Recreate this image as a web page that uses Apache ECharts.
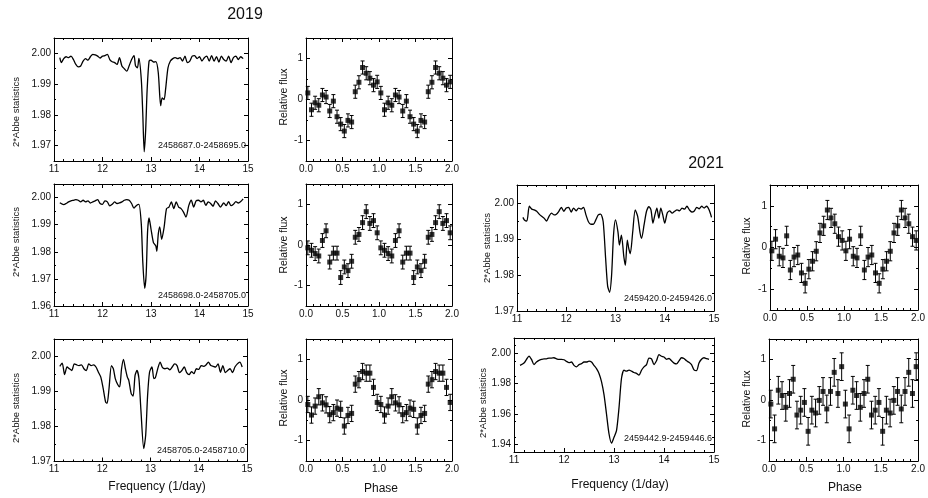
<!DOCTYPE html>
<html><head><meta charset="utf-8">
<script src="https://cdn.jsdelivr.net/npm/echarts@6/dist/echarts.min.js"></script>
<style>html,body{margin:0;padding:0;background:#fff}#c{width:928px;height:498px}</style>
</head><body><div id="c"></div><script>
// ---------------- DATA ----------------
const freqTicks = [11, 12, 13, 14, 15];
const phaseTicks = [0, 0.5, 1, 1.5, 2];
const fluxTicks = [-1, 0, 1];
const abbeTicksA = [1.97, 1.98, 1.99, 2.00];
const abbeTicksB = [1.96, 1.97, 1.98, 1.99, 2.00];
const abbeTicksC = [1.97, 1.98, 1.99, 2.00];
const abbeTicksD = [1.97, 1.98, 1.99, 2.00];
const abbeTicksE = [1.94, 1.96, 1.98, 2.00];

const labelA = '2458687.0-2458695.0';
const labelB = '2458698.0-2458705.0';
const labelC = '2458705.0-2458710.0';
const labelD = '2459420.0-2459426.0';
const labelE = '2459442.9-2459446.6';

const freqA = [11.12,11.15,11.2,11.25,11.3,11.35,11.4,11.45,11.5,11.55,11.6,11.65,11.7,11.75,11.8,11.85,11.9,11.95,12.0,12.05,12.1,12.15,12.2,12.25,12.3,12.35,12.4,12.45,12.5,12.55,12.6,12.65,12.68,12.72,12.75,12.8,12.83,12.86,12.89,12.92,12.96,13.0,13.05,13.1,13.15,13.2,13.23,13.27,13.3,13.35,13.4,13.45,13.5,13.55,13.6,13.65,13.7,13.75,13.8,13.85,13.9,13.95,14.0,14.05,14.1,14.15,14.2,14.25,14.3,14.35,14.4,14.45,14.5,14.55,14.6,14.65,14.7,14.75,14.8,14.85,14.9];
const abbeA = [1.9986,1.9970,1.9983,1.9989,1.9986,1.9991,1.9980,1.9964,1.9956,1.9959,1.9975,1.9983,1.9978,1.9989,1.9997,1.9995,1.9991,1.9985,1.9991,1.9993,1.9997,1.9980,1.9973,1.9970,1.9964,1.9986,1.9959,1.9950,1.9942,1.9960,1.9980,1.9993,1.9960,1.9953,1.9984,1.9915,1.9806,1.9680,1.9750,1.9880,1.9975,1.9978,1.9972,1.9973,1.9937,1.9830,1.9855,1.9850,1.9882,1.9953,1.9975,1.9983,1.9986,1.9983,1.9986,1.9975,1.9991,1.9970,1.9975,1.9991,1.9993,1.9983,1.9989,1.9975,1.9986,1.9991,1.9975,1.9993,1.9975,1.9989,1.9972,1.9991,1.9980,1.9975,1.9991,1.9970,1.9986,1.9991,1.9980,1.9989,1.9983];

const freqB = [11.12,11.2,11.25,11.3,11.35,11.4,11.45,11.5,11.55,11.6,11.65,11.7,11.75,11.8,11.85,11.9,11.95,12.0,12.05,12.1,12.15,12.2,12.25,12.3,12.35,12.4,12.45,12.5,12.55,12.6,12.65,12.7,12.75,12.8,12.83,12.87,12.9,12.93,12.96,13.0,13.05,13.1,13.12,13.15,13.18,13.22,13.27,13.32,13.37,13.42,13.47,13.52,13.57,13.62,13.67,13.72,13.78,13.83,13.88,13.93,13.98,14.03,14.08,14.13,14.18,14.23,14.28,14.33,14.38,14.43,14.5,14.55,14.6,14.65,14.7,14.75,14.8,14.85,14.9];
const abbeB = [1.9981,1.9974,1.9978,1.9984,1.9988,1.9990,1.9992,1.9990,1.9984,1.9990,1.9984,1.9988,1.9980,1.9984,1.9988,1.9992,1.9978,1.9975,1.9988,1.9984,1.9969,1.9975,1.9984,1.9978,1.9980,1.9984,1.9990,1.9992,1.9990,1.9978,1.9961,1.9971,1.9975,1.9902,1.9765,1.9665,1.9715,1.9877,1.9925,1.9884,1.9834,1.9821,1.9802,1.9865,1.9892,1.9846,1.9890,1.9959,1.9965,1.9984,1.9959,1.9984,1.9965,1.9959,1.9946,1.9928,1.9971,1.9990,1.9965,1.9988,1.9990,1.9984,1.9990,1.9971,1.9984,1.9978,1.9968,1.9988,1.9978,1.9965,1.9980,1.9970,1.9985,1.9970,1.9975,1.9985,1.9980,1.9985,1.9995];

const freqC = [11.12,11.17,11.22,11.27,11.32,11.37,11.42,11.47,11.52,11.57,11.62,11.67,11.72,11.77,11.82,11.87,11.92,11.97,12.02,12.07,12.1,12.14,12.19,12.23,12.27,12.32,12.36,12.4,12.44,12.48,12.52,12.55,12.6,12.64,12.68,12.72,12.76,12.8,12.86,12.9,12.94,12.98,13.03,13.07,13.1,13.15,13.2,13.25,13.3,13.35,13.4,13.45,13.5,13.55,13.6,13.65,13.7,13.75,13.8,13.85,13.9,13.95,14.0,14.05,14.1,14.15,14.2,14.25,14.3,14.35,14.4,14.45,14.5,14.55,14.6,14.65,14.7,14.75,14.8,14.85,14.9];
const abbeC = [1.9972,1.9981,1.9948,1.9970,1.9965,1.9960,1.9979,1.9976,1.9974,1.9976,1.9965,1.9960,1.9979,1.9974,1.9976,1.9970,1.9955,1.9941,1.9908,1.9870,1.9866,1.9908,1.9974,1.9965,1.9937,1.9920,1.9913,1.9965,1.9992,1.9965,1.9941,1.9932,1.9894,1.9887,1.9946,1.9960,1.9937,1.9850,1.9737,1.9775,1.9889,1.9955,1.9970,1.9937,1.9939,1.9965,1.9984,1.9968,1.9965,1.9967,1.9962,1.9970,1.9979,1.9974,1.9954,1.9960,1.9970,1.9954,1.9948,1.9957,1.9951,1.9965,1.9963,1.9974,1.9972,1.9976,1.9984,1.9974,1.9972,1.9970,1.9979,1.9955,1.9974,1.9954,1.9960,1.9965,1.9954,1.9970,1.9979,1.9984,1.9970];

const freqD = [11.12,11.15,11.2,11.25,11.3,11.35,11.4,11.45,11.5,11.55,11.6,11.65,11.7,11.75,11.8,11.85,11.9,11.95,12.0,12.05,12.1,12.15,12.2,12.25,12.3,12.35,12.4,12.45,12.5,12.55,12.6,12.65,12.7,12.75,12.8,12.84,12.88,12.92,12.96,13.0,13.05,13.08,13.12,13.17,13.2,13.24,13.27,13.3,13.35,13.4,13.45,13.5,13.53,13.58,13.63,13.68,13.72,13.76,13.8,13.84,13.88,13.92,13.96,14.0,14.05,14.1,14.15,14.2,14.25,14.3,14.35,14.4,14.45,14.5,14.55,14.6,14.65,14.7,14.75,14.8,14.85,14.9,14.95];
const abbeD = [1.9960,1.9953,1.9950,1.9991,1.9983,1.9981,1.9977,1.9969,1.9963,1.9958,1.9950,1.9963,1.9972,1.9967,1.9969,1.9977,1.9988,1.9977,1.9986,1.9988,1.9975,1.9986,1.9978,1.9986,1.9983,1.9988,1.9967,1.9948,1.9941,1.9941,1.9953,1.9967,1.9969,1.9948,1.9845,1.9770,1.9752,1.9798,1.9911,1.9953,1.9920,1.9883,1.9911,1.9850,1.9827,1.9897,1.9873,1.9859,1.9920,1.9981,1.9963,1.9916,1.9902,1.9939,1.9977,1.9990,1.9981,1.9944,1.9967,1.9986,1.9958,1.9986,1.9967,1.9944,1.9972,1.9978,1.9972,1.9977,1.9981,1.9978,1.9986,1.9983,1.9991,1.9981,1.9975,1.9978,1.9988,1.9984,1.9991,1.9986,1.9991,1.9981,1.9960];

const freqE = [11.12,11.2,11.25,11.3,11.35,11.4,11.45,11.5,11.55,11.6,11.65,11.7,11.75,11.8,11.85,11.9,11.95,12.0,12.05,12.1,12.15,12.2,12.25,12.3,12.35,12.4,12.45,12.5,12.55,12.6,12.65,12.7,12.75,12.8,12.85,12.9,12.95,13.0,13.05,13.1,13.15,13.2,13.25,13.3,13.35,13.4,13.45,13.5,13.55,13.6,13.65,13.7,13.75,13.8,13.85,13.9,13.95,14.0,14.05,14.1,14.15,14.2,14.25,14.3,14.35,14.4,14.45,14.5,14.55,14.6,14.65,14.7,14.75,14.8,14.85,14.9];
const abbeE = [1.9920,1.9935,1.9959,1.9981,1.9959,1.9925,1.9942,1.9953,1.9959,1.9963,1.9963,1.9968,1.9968,1.9970,1.9963,1.9959,1.9959,1.9957,1.9946,1.9938,1.9942,1.9920,1.9910,1.9925,1.9931,1.9942,1.9942,1.9948,1.9942,1.9920,1.9899,1.9867,1.9813,1.9727,1.9600,1.9470,1.9408,1.9447,1.9490,1.9640,1.9835,1.9888,1.9882,1.9888,1.9882,1.9873,1.9867,1.9856,1.9888,1.9910,1.9925,1.9968,1.9963,1.9925,1.9950,1.9990,1.9980,1.9975,1.9960,1.9965,1.9950,1.9935,1.9930,1.9950,1.9970,1.9965,1.9950,1.9940,1.9925,1.9890,1.9885,1.9935,1.9960,1.9970,1.9965,1.9960];

// phase bin centres of one cycle (plotted for two cycles)
const phaseBins = [0.025,0.075,0.125,0.175,0.225,0.275,0.325,0.375,0.425,0.475,0.525,0.575,0.625,0.675,0.725,0.775,0.825,0.875,0.925,0.975];
const fluxA = [0.16,-0.25,-0.08,-0.14,0.11,0.06,-0.28,-0.04,-0.42,-0.60,-0.77,-0.51,-0.55,0.19,0.42,0.78,0.64,0.52,0.35,0.43];
const fluxB = [-0.07,-0.13,-0.21,-0.27,0.11,0.35,-0.42,-0.20,-0.20,-0.80,-0.54,-0.63,-0.40,0.19,0.26,0.55,0.82,0.53,0.60,0.30];
const fluxC = [-0.11,-0.37,-0.15,0.08,-0.07,-0.12,-0.36,-0.31,-0.20,-0.23,-0.64,-0.38,-0.33,0.39,0.50,0.70,0.66,0.66,0.31,-0.06];
const fluxD = [-0.08,0.20,-0.21,-0.25,0.28,-0.54,-0.23,-0.18,-0.61,-0.86,-0.52,-0.33,-0.09,0.35,0.52,0.90,0.71,0.57,0.26,0.17];
const fluxE = [-0.10,-0.71,0.24,0.11,-0.18,0.16,0.51,-0.37,-0.25,-0.06,-0.77,-0.25,-0.32,-0.01,0.21,-0.22,0.21,0.68,0.16,0.82];
const errA = 0.16, errB = 0.17, errC = 0.20, errD = 0.23, errE = 0.34;

// ---------------- BUILD ----------------
const FONT = '"Liberation Sans", Arial, sans-serif';
const TXT = '#111';
const grids = [], xAxes = [], yAxes = [], series = [], graphics = [];

function steps(a, b, s) {
  const r = []; const n = Math.round((b - a) / s);
  for (let i = 0; i <= n; i++) r.push(+(a + i * s).toFixed(6));
  return r;
}

function axisSet(list, gi, dim, min, max, majors, minors, fmt, showLabels) {
  const posMain = dim === 'x' ? 'bottom' : 'left';
  const posMirror = dim === 'x' ? 'top' : 'right';
  const base = () => ({ type: 'value', gridIndex: gi, min, max, scale: true,
    splitLine: { show: false }, axisPointer: { show: false } });
  const idx = list.length;
  list.push(Object.assign(base(), { position: posMain,
    axisLine: { show: true, onZero: false, lineStyle: { color: '#000', width: 1 } },
    axisTick: { show: true, inside: true, length: 4, customValues: majors, lineStyle: { color: '#000', width: 1 } },
    axisLabel: { show: showLabels, customValues: majors, formatter: fmt, fontSize: 10, color: TXT,
      fontFamily: FONT, margin: 3 } }));
  list.push(Object.assign(base(), { position: posMirror,
    axisLine: { show: true, onZero: false, lineStyle: { color: '#000', width: 1 } },
    axisTick: { show: true, inside: true, length: 4, customValues: majors, lineStyle: { color: '#000', width: 1 } },
    axisLabel: { show: false } }));
  [posMain, posMirror].forEach(pos => list.push(Object.assign(base(), { position: pos,
    axisLine: { show: false, onZero: false },
    axisTick: { show: true, inside: true, length: 2, customValues: minors, lineStyle: { color: '#000', width: 1 } },
    axisLabel: { show: false } })));
  return idx;
}

function addGrid(rect, xr, yr) {
  const gi = grids.length;
  grids.push({ left: rect[0], top: rect[1], width: rect[2], height: rect[3] });
  const xi = axisSet(xAxes, gi, 'x', xr.min, xr.max, xr.majors, xr.minors, xr.fmt, true);
  const yi = axisSet(yAxes, gi, 'y', yr.min, yr.max, yr.majors, yr.minors, yr.fmt, true);
  return { xi, yi };
}

const fmtInt = v => String(Math.round(v));
const fmt1 = v => v.toFixed(1);
const fmt2 = v => v.toFixed(2);
const freqAxis = { min: 11, max: 15, majors: freqTicks, minors: steps(11, 15, 0.2), fmt: fmtInt };
const phaseAxis = { min: 0, max: 2, majors: phaseTicks, minors: steps(0, 2, 0.1), fmt: fmt1 };
const fluxAxis = { min: -1.5, max: 1.5, majors: fluxTicks, minors: steps(-1.5, 1.5, 0.5), fmt: fmtInt };

function periodogram(rect, freq, abbe, ymin, ymax, majors, minorStep, label, labelY) {
  const a = addGrid(rect, freqAxis, { min: ymin, max: ymax, majors, minors: steps(ymin, ymax, minorStep), fmt: fmt2 });
  series.push({ type: 'line', xAxisIndex: a.xi, yAxisIndex: a.yi, data: freq.map((f, i) => [f, abbe[i]]),
    showSymbol: false, symbol: 'none', smooth: 0.25, lineStyle: { color: '#000', width: 1.3 }, clip: true, silent: true });
  graphics.push({ type: 'text', x: rect[0] + rect[2] - 2, y: labelY,
    style: { text: label, fill: TXT, font: '9px ' + FONT, textAlign: 'right', textVerticalAlign: 'middle' } });
}

function phasePlot(rect, flux, err) {
  const a = addGrid(rect, phaseAxis, fluxAxis);
  const pts = [];
  [0, 1].forEach(c => phaseBins.forEach((p, i) => pts.push([p + c, flux[i]])));
  series.push({ type: 'custom', xAxisIndex: a.xi, yAxisIndex: a.yi, silent: true,
    data: pts.map(d => [d[0], d[1] - err, d[1] + err]),
    encode: { x: 0, y: [1, 2] },
    renderItem: (params, api) => {
      const x = api.value(0);
      const p1 = api.coord([x, api.value(1)]), p2 = api.coord([x, api.value(2)]);
      const cw = 2, st = { stroke: '#000', lineWidth: 1 };
      return { type: 'group', children: [
        { type: 'line', shape: { x1: p1[0], y1: p1[1], x2: p2[0], y2: p2[1] }, style: st },
        { type: 'line', shape: { x1: p1[0] - cw, y1: p1[1], x2: p1[0] + cw, y2: p1[1] }, style: st },
        { type: 'line', shape: { x1: p2[0] - cw, y1: p2[1], x2: p2[0] + cw, y2: p2[1] }, style: st }
      ] };
    } });
  series.push({ type: 'scatter', xAxisIndex: a.xi, yAxisIndex: a.yi, data: pts, symbol: 'rect',
    symbolSize: 5, itemStyle: { color: '#000' }, silent: true, z: 3 });
}

function text(x, y, s, size, rot) {
  graphics.push({ type: 'text', x, y, rotation: rot ? Math.PI / 2 : 0,
    style: { text: s, fill: TXT, font: size + 'px ' + FONT, textAlign: 'center', textVerticalAlign: 'middle' } });
}

// 2019 column
periodogram([54, 38, 194, 123], freqA, abbeA, 1.965, 2.005, abbeTicksA, 0.005, labelA, 146);
phasePlot([306, 38, 146, 123], fluxA, errA);
periodogram([54, 184, 194, 122], freqB, abbeB, 1.96, 2.005, abbeTicksB, 0.005, labelB, 296);
phasePlot([306, 184, 146, 122], fluxB, errB);
periodogram([54, 339, 193, 122.5], freqC, abbeC, 1.97, 2.005, abbeTicksC, 0.005, labelC, 451);
phasePlot([306, 339, 146, 122], fluxC, errC);
// 2021 column
periodogram([517, 185, 197, 126], freqD, abbeD, 1.97, 2.005, abbeTicksD, 0.005, labelD, 299);
phasePlot([770, 185, 150, 125], fluxD, errD);
periodogram([514, 338, 200, 114], freqE, abbeE, 1.935, 2.01, abbeTicksE, 0.01, labelE, 439);
phasePlot([769, 339, 150, 122], fluxE, errE);

text(245, 15, '2019', 16);
text(706, 164, '2021', 16);
text(16, 112, '2*Abbe statistics', 9.5, true);
text(16, 242, '2*Abbe statistics', 9.5, true);
text(16, 408, '2*Abbe statistics', 9.5, true);
text(487, 248, '2*Abbe statistics', 9.5, true);
text(483, 403, '2*Abbe statistics', 9.5, true);
text(284, 97, 'Relative flux', 10.5, true);
text(284, 245, 'Relative flux', 10.5, true);
text(284, 398, 'Relative flux', 10.5, true);
text(747, 246, 'Relative flux', 10.5, true);
text(747, 399, 'Relative flux', 10.5, true);
text(157, 487, 'Frequency (1/day)', 12);
text(381, 489, 'Phase', 12);
text(620, 485, 'Frequency (1/day)', 12);
text(845, 488, 'Phase', 12);

const chart = echarts.init(document.getElementById('c'), null, { renderer: 'canvas', width: 928, height: 498 });
chart.setOption({ animation: false, backgroundColor: '#fff', grid: grids, xAxis: xAxes, yAxis: yAxes,
  series, graphic: { elements: graphics } });
</script></body></html>
